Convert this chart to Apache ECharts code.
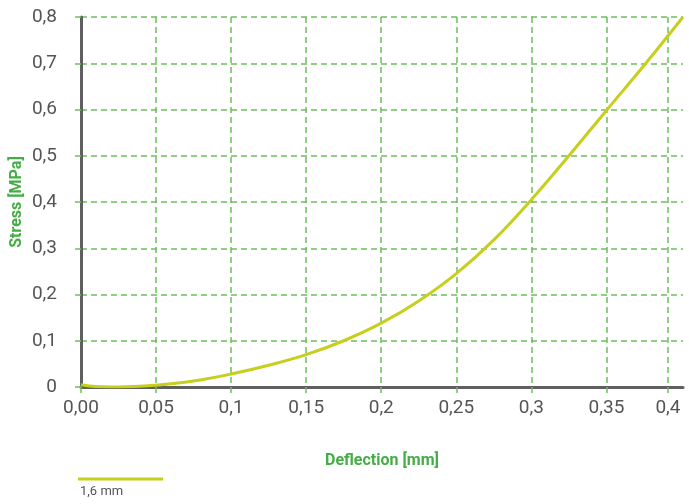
<!DOCTYPE html>
<html>
<head>
<meta charset="utf-8">
<script src="https://cdn.jsdelivr.net/npm/echarts@6/dist/echarts.min.js"></script>
<style>html,body{margin:0;padding:0;background:#fff;}#c{width:689px;height:504px;}</style>
</head>
<body>
<div id="c"></div>
<script>
// Data
var seriesName = '1,6 mm';
var deflection = [0, 0.01, 0.025, 0.05, 0.075, 0.1, 0.125, 0.15, 0.175, 0.2, 0.225, 0.25, 0.275, 0.3, 0.325, 0.35, 0.375, 0.401];
var stress     = [0.005, 0.001, 0.0, 0.004, 0.013, 0.028, 0.047, 0.07, 0.1, 0.138, 0.186, 0.245, 0.318, 0.405, 0.5, 0.598, 0.695, 0.8];
var xTickValues = [0, 0.05, 0.1, 0.15, 0.2, 0.25, 0.3, 0.35, 0.391];
var xTickLabels = ['0,00', '0,05', '0,1', '0,15', '0,2', '0,25', '0,3', '0,35', '0,4'];

var gridGreen = '#6cbf5e';
var axisGray = '#5f5f5f';
var nameGreen = '#45ad45';
var chart = echarts.init(document.getElementById('c'));
var pts = deflection.map(function (d, i) { return [d, stress[i]]; });
chart.setOption({
  animation: false,
  grid: { left: 81, right: 6, top: 17, bottom: 117, containLabel: false, outerBoundsMode: 'none' },
  legend: {
    left: 78, top: 453, padding: 0,
    itemWidth: 85, itemHeight: 3, icon: 'rect',
    data: [seriesName],
    formatter: function (n) { return '\n' + n; },
    textStyle: { color: '#555', fontFamily: 'Roboto', fontSize: 13, lineHeight: 26, padding: [0, 0, 0, -88] }
  },
  xAxis: {
    type: 'value', min: 0, max: 0.401,
    name: 'Deflection [mm]', nameLocation: 'middle', nameGap: 66, nameMoveOverlap: false,
    nameTextStyle: { color: nameGreen, fontWeight: 'bold', fontSize: 16, fontFamily: 'Roboto' },
    axisLine: { show: true, lineStyle: { color: axisGray, width: 3 } },
    axisTick: { show: true, length: 6, customValues: xTickValues, lineStyle: { color: gridGreen, type: [6, 4], width: 1.5 } },
    axisLabel: {
      customValues: xTickValues, margin: 12, color: '#555', fontSize: 19, fontFamily: 'Roboto',
      formatter: function (v) { var i = xTickValues.indexOf(v); return i >= 0 ? xTickLabels[i] : ''; }
    },
    splitLine: { show: true, lineStyle: { color: gridGreen, type: [6, 4], width: 1.5 } }
  },
  yAxis: {
    type: 'value', min: 0, max: 0.8, interval: 0.1,
    name: 'Stress [MPa]', nameLocation: 'middle', nameGap: 56, nameMoveOverlap: false,
    nameTextStyle: { color: nameGreen, fontWeight: 'bold', fontSize: 16, fontFamily: 'Roboto' },
    axisLine: { show: true, lineStyle: { color: axisGray, width: 3 } },
    axisTick: { show: true, length: 8, lineStyle: { color: gridGreen, type: [6, 4], width: 1.5 } },
    axisLabel: {
      margin: 24, color: '#555', fontSize: 19, fontFamily: 'Roboto',
      formatter: function (v) { return v === 0 ? '0' : (Math.round(v * 10) / 10).toString().replace('.', ','); }
    },
    splitLine: { show: true, lineStyle: { color: gridGreen, type: [6, 4], width: 1.5 } }
  },
  series: [{
    name: seriesName, type: 'line', data: pts, smooth: 0.4, showSymbol: false,
    lineStyle: { color: '#c6cf1c', width: 3 }, itemStyle: { color: '#c6cf1c' }
  }]
});
</script>
</body>
</html>
